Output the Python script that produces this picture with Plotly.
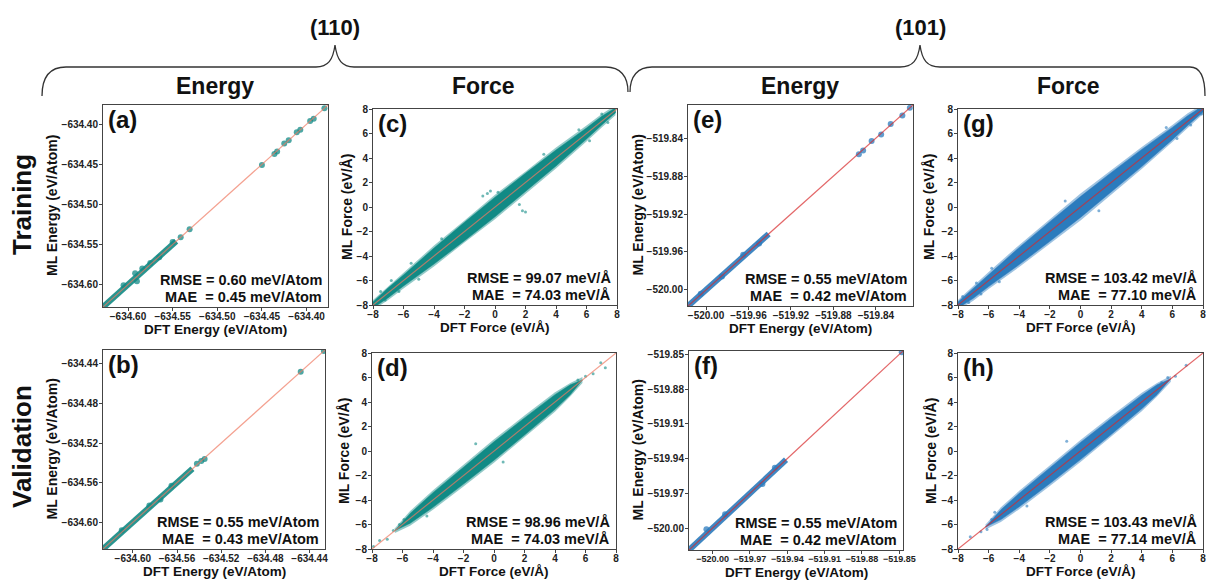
import plotly.graph_objects as go

W, H = 1206, 583
FONT = "Liberation Sans, Arial, sans-serif"

TEAL = "#118a85"
TEAL_LIGHT = "rgba(17,138,133,0.45)"
BLUE = "#2b7bbd"
BLUE_LIGHT = "rgba(43,123,189,0.45)"
LINE_110 = "#f07a62"
LINE_101 = "#d8282a"

# ---------------- data ----------------
RANGE_A = [-634.628, -634.376]
RANGE_B = [-634.627, -634.426]
RANGE_E = [-520.017, -519.805]
RANGE_F = [-520.019, -519.847]
RANGE_FORCE = [-8.0001, 8.0001]

TICKS_A = [-634.60, -634.55, -634.50, -634.45, -634.40]
TICKS_B = [-634.60, -634.56, -634.52, -634.48, -634.44]
TICKS_E = [-520.00, -519.96, -519.92, -519.88, -519.84]
TICKS_F = [-520.00, -519.97, -519.94, -519.91, -519.88, -519.85]
TICKS_FORCE = [-8, -6, -4, -2, 0, 2, 4, 6, 8]

# energy: dense run of points along the diagonal (DFT start, DFT end)
DENSE_A = [-634.628, -634.546]
DENSE_B = [-634.627, -634.546]
DENSE_E = [-520.017, -519.941]
DENSE_F = [-520.019, -519.941]

# energy: individual points (DFT, ML)
PTS_A_DFT = [-634.605, -634.592, -634.590, -634.584, -634.575, -634.565, -634.550,
             -634.541, -634.531, -634.450, -634.436, -634.433, -634.425, -634.420,
             -634.411, -634.407, -634.396, -634.392, -634.380]
PTS_A_ML = [-634.601, -634.586, -634.596, -634.580, -634.573, -634.566, -634.547,
            -634.541, -634.531, -634.451, -634.437, -634.434, -634.424, -634.420,
            -634.410, -634.407, -634.396, -634.393, -634.380]
PTS_B_DFT = [-634.610, -634.585, -634.575, -634.565, -634.542, -634.538, -634.535,
             -634.448, -634.427]
PTS_B_ML = [-634.608, -634.583, -634.577, -634.563, -634.541, -634.538, -634.536,
            -634.448, -634.427]
PTS_E_DFT = [-520.005, -519.985, -519.965, -519.950, -519.856, -519.852, -519.844,
             -519.835, -519.826, -519.815, -519.808]
PTS_E_ML = [-520.004, -519.986, -519.963, -519.951, -519.857, -519.853, -519.843,
            -519.836, -519.825, -519.816, -519.808]
PTS_F_DFT = [-520.005, -519.990, -519.960, -519.950, -519.848]
PTS_F_ML = [-520.001, -519.988, -519.962, -519.948, -519.848]

# force: envelope of the point cloud (DFT knots, ML lower / upper edges)
C_X = [-8, -7, -6, -4, -2, 0, 2, 4, 6, 7, 7.9]
C_OUT_LO = [-8.4, -7.6, -6.65, -4.85, -2.9, -1.0, 1.1, 3.15, 5.35, 6.5, 7.5]
C_OUT_HI = [-7.6, -6.5, -5.35, -3.15, -1.1, 1.0, 2.9, 4.85, 6.65, 7.6, 8.3]
C_CORE_LO = [-8.25, -7.4, -6.45, -4.65, -2.75, -0.8, 1.25, 3.35, 5.55, 6.7, 7.7]
C_CORE_HI = [-7.75, -6.6, -5.55, -3.35, -1.25, 0.8, 2.75, 4.65, 6.45, 7.4, 8.1]

D_X = [-6.5, -5.5, -4, -2, 0, 2, 4, 5.0, 5.8]
D_OUT_LO = [-6.7, -6.1, -4.8, -2.9, -0.95, 1.1, 3.2, 4.45, 5.55]
D_OUT_HI = [-6.3, -4.9, -3.2, -1.1, 0.95, 2.9, 4.8, 5.55, 6.05]
D_CORE_LO = [-6.5, -5.9, -4.6, -2.7, -0.75, 1.3, 3.4, 4.6, 5.8]
D_CORE_HI = [-6.5, -5.1, -3.4, -1.3, 0.75, 2.7, 4.6, 5.4, 5.8]

G_X = [-8, -7, -6, -4, -2, 0, 2, 4, 6, 7, 8]
G_OUT_LO = [-8.4, -7.65, -6.7, -4.9, -3.0, -1.1, 1.0, 3.1, 5.3, 6.45, 7.6]
G_OUT_HI = [-7.6, -6.45, -5.3, -3.1, -1.0, 1.1, 3.0, 4.9, 6.7, 7.65, 8.4]
G_CORE_LO = [-8.25, -7.45, -6.5, -4.7, -2.8, -0.85, 1.2, 3.3, 5.5, 6.65, 7.75]
G_CORE_HI = [-7.75, -6.65, -5.5, -3.3, -1.2, 0.85, 2.8, 4.7, 6.5, 7.45, 8.25]

H_X = [-6.2, -5.2, -4, -2, 0, 2, 4, 5.0, 5.9]
H_OUT_LO = [-6.4, -5.8, -4.75, -2.85, -0.9, 1.15, 3.25, 4.45, 5.65]
H_OUT_HI = [-6.0, -4.6, -3.25, -1.15, 0.9, 2.85, 4.75, 5.55, 6.15]
H_CORE_LO = [-6.2, -5.6, -4.55, -2.65, -0.7, 1.35, 3.45, 4.6, 5.9]
H_CORE_HI = [-6.2, -4.8, -3.45, -1.35, 0.7, 2.65, 4.55, 5.4, 5.9]

# force: scattered outliers (DFT, ML)
C_OUT_X = [-7.8, -7.5, -7.2, -6.8, -6.3, -5.5, -5.0, -3.5, -0.8, -0.5, -0.3, 0.2,
           1.6, 1.8, 2.0, 3.2, 5.5, 6.2, 7.0, 7.4, 7.8]
C_OUT_Y = [-7.9, -6.9, -7.6, -6.0, -6.9, -4.6, -5.9, -2.6, 0.9, 1.1, 1.3, 1.2,
           0.2, -0.3, -0.4, 4.3, 6.3, 5.4, 7.6, 6.9, 7.7]
D_OUTL_X = [-7.9, -7.5, -7.0, -6.6, -6.2, -5.9, -4.4, -1.2, 0.6, 5.5, 6.0, 6.5, 7.0, 7.3]
D_OUTL_Y = [-7.8, -7.3, -7.2, -6.5, -6.0, -5.6, -5.3, 0.6, -0.9, 5.8, 6.1, 6.3, 7.2, 6.8]
G_OUTL_X = [-7.7, -7.3, -6.8, -6.5, -5.8, -5.3, -1.0, 1.2, 5.6, 6.3, 6.8, 7.2, 7.7, 7.9]
G_OUTL_Y = [-7.3, -7.8, -6.2, -7.1, -5.0, -6.1, 0.5, -0.3, 6.5, 5.6, 7.0, 6.7, 8.0, 7.6]
H_OUTL_X = [-7.2, -6.5, -6.1, -5.8, -5.6, -3.5, -0.9, 5.3, 5.7, 6.2, 6.9]
H_OUTL_Y = [-7.0, -6.6, -6.4, -5.6, -5.0, -4.5, 0.8, 5.6, 6.0, 6.1, 7.0]

# ---------------- layout helpers (pixel boxes of each panel) ----------------
def fx(x):
    return x / W


def fy(y):
    return 1 - y / H


panels = [
    dict(key="a", box=(103, 105, 328, 307), kind="E110", rng=RANGE_A, tx=TICKS_A, ty=TICKS_A,
         rmse="0.60", mae="0.45", ytx=52),
    dict(key="c", box=(373, 109, 617, 305), kind="F110", rng=RANGE_FORCE, tx=TICKS_FORCE, ty=TICKS_FORCE,
         rmse="99.07", mae="74.03", ytx=347),
    dict(key="e", box=(688, 105, 913, 306), kind="E101", rng=RANGE_E, tx=TICKS_E, ty=TICKS_E,
         rmse="0.55", mae="0.42", ytx=637),
    dict(key="g", box=(958, 109, 1203, 305), kind="F101", rng=RANGE_FORCE, tx=TICKS_FORCE, ty=TICKS_FORCE,
         rmse="103.42", mae="77.10", ytx=929),
    dict(key="b", box=(103, 350, 325, 549), kind="E110", rng=RANGE_B, tx=TICKS_B, ty=TICKS_B,
         rmse="0.55", mae="0.43", ytx=52),
    dict(key="d", box=(372, 353, 616, 549), kind="F110", rng=RANGE_FORCE, tx=TICKS_FORCE, ty=TICKS_FORCE,
         rmse="98.96", mae="74.03", ytx=344),
    dict(key="f", box=(689, 351, 903, 550), kind="E101", rng=RANGE_F, tx=TICKS_F, ty=TICKS_F,
         rmse="0.55", mae="0.42", ytx=637),
    dict(key="h", box=(958, 353, 1203, 549), kind="F101", rng=RANGE_FORCE, tx=TICKS_FORCE, ty=TICKS_FORCE,
         rmse="103.43", mae="77.14", ytx=931),
]

energy_data = {
    "a": (DENSE_A, PTS_A_DFT, PTS_A_ML),
    "b": (DENSE_B, PTS_B_DFT, PTS_B_ML),
    "e": (DENSE_E, PTS_E_DFT, PTS_E_ML),
    "f": (DENSE_F, PTS_F_DFT, PTS_F_ML),
}
force_data = {
    "c": (C_X, C_OUT_LO, C_OUT_HI, C_CORE_LO, C_CORE_HI, C_OUT_X, C_OUT_Y),
    "d": (D_X, D_OUT_LO, D_OUT_HI, D_CORE_LO, D_CORE_HI, D_OUTL_X, D_OUTL_Y),
    "g": (G_X, G_OUT_LO, G_OUT_HI, G_CORE_LO, G_CORE_HI, G_OUTL_X, G_OUTL_Y),
    "h": (H_X, H_OUT_LO, H_OUT_HI, H_CORE_LO, H_CORE_HI, H_OUTL_X, H_OUTL_Y),
}

fig = go.Figure()
annotations = []
layout = {}

for i, p in enumerate(panels, start=1):
    l, t, r, b = p["box"]
    xa = "x" if i == 1 else f"x{i}"
    ya = "y" if i == 1 else f"y{i}"
    xkey = "xaxis" if i == 1 else f"xaxis{i}"
    ykey = "yaxis" if i == 1 else f"yaxis{i}"
    is_energy = p["kind"].startswith("E")
    is110 = p["kind"].endswith("110")
    main = TEAL if is110 else BLUE
    light = TEAL_LIGHT if is110 else BLUE_LIGHT
    lcol = LINE_110 if is110 else LINE_101
    fmt = ".2f" if is_energy else "d"
    xsize = 9 if p["key"] == "f" else 10

    common = dict(showgrid=False, zeroline=False, showline=True, mirror=True,
                  linecolor="#444", linewidth=1, ticks="outside", ticklen=3,
                  tickwidth=1, tickcolor="#444", tickangle=0,
                  ticklabeloverflow="allow",
                  automargin=False, range=p["rng"], tickformat=fmt)
    layout[xkey] = dict(common, domain=[fx(l), fx(r)], anchor=ya, tickvals=p["tx"],
                        ticklabelstandoff=-3,
                        tickfont=dict(family=FONT, size=xsize, color="#222", weight="bold"))
    layout[ykey] = dict(common, domain=[fy(b), fy(t)], anchor=xa, tickvals=p["ty"],
                        ticklabelstandoff=-1,
                        tickfont=dict(family=FONT, size=10, color="#222", weight="bold"))

    if is_energy:
        dense, px_, py_ = energy_data[p["key"]]
        fig.add_trace(go.Scatter(x=dense, y=dense, xaxis=xa, yaxis=ya, mode="lines",
                                 line=dict(color=main, width=6), opacity=0.9,
                                 hoverinfo="skip", showlegend=False))
        fig.add_trace(go.Scatter(x=px_, y=py_, xaxis=xa, yaxis=ya, mode="markers",
                                 marker=dict(color=main, size=6, opacity=0.75, line=dict(width=0)),
                                 showlegend=False))
    else:
        kx, olo, ohi, clo, chi, ox, oy = force_data[p["key"]]
        fig.add_trace(go.Scatter(x=kx + kx[::-1], y=ohi + olo[::-1], xaxis=xa, yaxis=ya,
                                 mode="lines", fill="toself", fillcolor=light,
                                 line=dict(width=0, color=light),
                                 hoverinfo="skip", showlegend=False))
        fig.add_trace(go.Scatter(x=kx + kx[::-1], y=chi + clo[::-1], xaxis=xa, yaxis=ya,
                                 mode="lines", fill="toself", fillcolor=main,
                                 line=dict(width=0.5, color=main),
                                 hoverinfo="skip", showlegend=False))
        fig.add_trace(go.Scatter(x=ox, y=oy, xaxis=xa, yaxis=ya, mode="markers",
                                 marker=dict(color=main, size=3, opacity=0.6, line=dict(width=0)),
                                 showlegend=False))

    fig.add_trace(go.Scatter(x=p["rng"], y=p["rng"], xaxis=xa, yaxis=ya, mode="lines",
                             line=dict(color=lcol, width=1.2), opacity=0.7,
                             hoverinfo="skip", showlegend=False))

    annotations.append(dict(x=fx(l + 3), y=fy(t + 14), xref="paper", yref="paper",
                            xanchor="left", yanchor="middle", showarrow=False,
                            text=f"<b>({p['key']})</b>",
                            font=dict(family=FONT, size=24, color="#111")))
    unit = "meV/Atom" if is_energy else "meV/Å"
    annotations.append(dict(x=fx(r - 4), y=fy(b - 27), xref="paper", yref="paper",
                            xanchor="right", yanchor="middle", showarrow=False,
                            text=f"<b>RMSE = {p['rmse']} {unit}</b>",
                            font=dict(family=FONT, size=14.5, color="#111")))
    annotations.append(dict(x=fx(r - 4), y=fy(b - 10), xref="paper", yref="paper",
                            xanchor="right", yanchor="middle", showarrow=False,
                            text=f"<b>MAE \u00a0= {p['mae']} {unit}</b>",
                            font=dict(family=FONT, size=14.5, color="#111")))
    xt = "DFT Energy (eV/Atom)" if is_energy else "DFT Force (eV/Å)"
    yt = "ML Energy (eV/Atom)" if is_energy else "ML Force (eV/Å)"
    annotations.append(dict(x=fx((l + r) / 2), y=fy(b + 22), xref="paper", yref="paper",
                            xanchor="center", yanchor="middle", showarrow=False,
                            text=f"<b>{xt}</b>", font=dict(family=FONT, size=13.5, color="#111")))
    annotations.append(dict(x=fx(p["ytx"]), y=fy((t + b) / 2), xref="paper", yref="paper",
                            xanchor="center", yanchor="middle", showarrow=False, textangle=-90,
                            text=f"<b>{yt}</b>", font=dict(family=FONT, size=14, color="#111")))

for txt, x in [("Energy", 215), ("Force", 483), ("Energy", 800), ("Force", 1068)]:
    annotations.append(dict(x=fx(x), y=fy(86), xref="paper", yref="paper", showarrow=False,
                            xanchor="center", yanchor="middle", text=f"<b>{txt}</b>",
                            font=dict(family=FONT, size=23, color="#111")))
for txt, x in [("(110)", 335), ("(101)", 920)]:
    annotations.append(dict(x=fx(x), y=fy(27), xref="paper", yref="paper", showarrow=False,
                            xanchor="center", yanchor="middle", text=f"<b>{txt}</b>",
                            font=dict(family=FONT, size=22, color="#111")))
for txt, y in [("Training", 205), ("Validation", 447)]:
    annotations.append(dict(x=fx(22), y=fy(y), xref="paper", yref="paper", showarrow=False,
                            xanchor="center", yanchor="middle", textangle=-90, text=f"<b>{txt}</b>",
                            font=dict(family=FONT, size=26, color="#111")))


def path_from(cmds):
    out = []
    for c in cmds:
        op, pts = c[0], c[1:]
        out.append(op + " " + " ".join(f"{fx(x):.5f},{fy(y):.5f}" for x, y in pts))
    return " ".join(out)


brace1 = path_from([("M", (42, 96)), ("C", (42, 76), (50, 67), (66, 67)), ("L", (316, 67)),
                    ("C", (328, 67), (333, 60), (335, 45)), ("C", (337, 60), (342, 67), (354, 67)),
                    ("L", (606, 67)), ("C", (620, 67), (628, 76), (628, 92))])
brace2 = path_from([("M", (630, 92)), ("C", (630, 76), (638, 67), (652, 67)), ("L", (900, 67)),
                    ("C", (913, 67), (918, 60), (920, 45)), ("C", (922, 60), (927, 67), (940, 67)),
                    ("L", (1190, 67)), ("C", (1200, 67), (1205, 76), (1205, 96))])
shapes = [dict(type="path", xref="paper", yref="paper", path=pth,
               line=dict(color="#333", width=1.3)) for pth in (brace1, brace2)]

fig.update_layout(width=W, height=H, margin=dict(l=0, r=0, t=0, b=0),
                  paper_bgcolor="white", plot_bgcolor="white",
                  annotations=annotations, shapes=shapes, showlegend=False, **layout)

fig.write_html("out.html", config={"displayModeBar": False},
               post_script="document.body.style.margin='0';document.body.style.overflow='hidden';")
